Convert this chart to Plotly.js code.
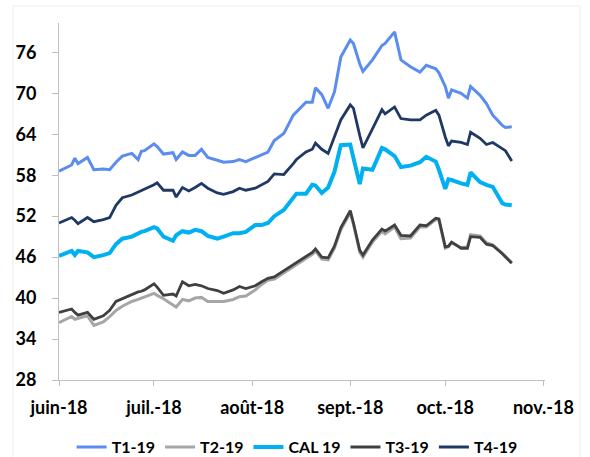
<!DOCTYPE html>
<html>
<head>
<meta charset="utf-8">
<script src="https://cdn.plot.ly/plotly-3.0.1.min.js"></script>
<style>
  html, body { margin: 0; padding: 0; background: #ffffff; }
  #chart { width: 590px; height: 457px; }
</style>
</head>
<body>
<div id="chart"></div>
<script>
const dates = [
  '2018-06-01','2018-06-05','2018-06-06','2018-06-07','2018-06-10','2018-06-12','2018-06-15','2018-06-17','2018-06-19','2018-06-21',
  '2018-06-24','2018-06-26','2018-06-27','2018-06-28','2018-07-01','2018-07-02','2018-07-04','2018-07-07','2018-07-08','2018-07-10',
  '2018-07-12','2018-07-14','2018-07-16','2018-07-18','2018-07-21','2018-07-23','2018-07-26','2018-07-28','2018-07-30','2018-08-02',
  '2018-08-04','2018-08-06','2018-08-08','2018-08-11','2018-08-14','2018-08-15','2018-08-18','2018-08-20','2018-08-21','2018-08-23',
  '2018-08-25','2018-08-27','2018-08-29','2018-09-01','2018-09-02','2018-09-04','2018-09-05',
  '2018-09-08','2018-09-11','2018-09-12','2018-09-15','2018-09-17','2018-09-20','2018-09-23','2018-09-25','2018-09-28','2018-09-29',
  '2018-10-01','2018-10-02','2018-10-03','2018-10-06','2018-10-08','2018-10-09','2018-10-12','2018-10-14','2018-10-16','2018-10-19','2018-10-20','2018-10-22'
];

const t1_19 = [58.6,59.5,60.5,59.7,60.6,58.8,58.9,58.8,59.9,60.8,
  61.2,60.3,61.5,61.6,62.6,62.2,61.1,61.3,60.3,61.4,
  60.9,60.9,61.8,60.6,60.2,59.9,60.0,60.3,60.0,60.6,
  61.0,61.4,63.1,64.1,66.8,67.3,68.7,68.7,70.8,69.8,
  67.8,70.2,75.3,77.8,77.3,74.3,73.2,
  74.9,77.0,77.3,79.0,74.9,73.9,73.1,74.1,73.6,73.0,
  71.0,69.3,70.5,70.0,69.3,71.0,69.7,68.5,66.8,65.3,65.0,65.1];

const t2_19 = [36.4,37.3,36.9,37.0,37.4,36.0,36.5,37.3,38.2,38.8,
  39.5,39.8,40.0,40.1,40.7,40.4,39.9,39.0,38.7,39.8,
  39.6,40.0,40.1,39.5,39.5,39.5,39.8,40.2,40.3,41.2,
  42.0,42.6,42.8,43.7,44.6,45.0,45.8,46.4,46.9,45.7,
  45.6,47.3,50.0,52.5,50.8,46.7,46.0,
  48.2,49.8,49.4,50.4,48.7,48.8,50.4,50.4,51.5,51.4,
  47.3,47.5,48.1,47.4,47.5,49.3,49.1,48.1,47.8,46.6,46.1,45.2];

const cal_19 = [46.2,46.9,46.3,46.9,46.7,46.0,46.3,46.6,47.9,48.7,
  49.0,49.5,49.7,49.8,50.4,50.2,49.0,48.4,49.2,49.8,
  49.6,50.0,49.8,49.1,48.7,49.0,49.5,49.5,49.7,50.7,
  50.7,51.0,52.0,52.9,54.8,55.3,55.3,56.6,56.5,55.4,
  56.2,58.5,62.4,62.5,60.5,56.7,59.0,
  58.8,62.0,61.8,60.8,59.2,59.4,59.9,60.7,60.0,58.8,
  56.0,57.4,57.3,56.8,56.6,58.4,57.0,56.6,56.3,53.9,53.7,53.6];

const t3_19 = [37.9,38.4,37.9,37.5,37.9,36.9,37.4,38.2,39.5,39.9,
  40.6,40.9,41.0,41.2,42.1,41.6,40.4,40.6,40.3,42.4,
  41.8,42.0,41.8,41.4,41.1,40.7,41.2,41.7,41.4,41.8,
  42.4,42.9,43.1,44.0,44.9,45.3,46.1,46.7,47.2,46.0,
  45.9,47.6,50.3,52.8,51.0,47.0,46.3,
  48.5,50.1,49.8,50.7,49.2,49.1,50.7,50.6,51.7,51.6,
  47.5,47.6,48.2,47.3,47.3,49.0,48.9,47.9,47.7,46.5,46.0,45.1];

const t4_19 = [51.0,51.8,51.4,50.9,51.8,51.2,51.5,51.8,53.6,54.7,
  55.1,55.5,55.8,55.9,56.6,56.9,55.8,55.8,54.8,56.2,
  55.7,56.2,56.8,56.1,55.4,55.2,55.6,56.1,55.8,56.1,
  56.6,57.1,58.2,58.1,59.7,60.3,61.4,61.8,62.7,61.8,
  61.2,63.6,66.1,68.3,67.8,63.8,62.0,
  64.8,67.6,67.0,68.0,66.3,66.1,66.1,66.8,67.5,66.8,
  63.6,62.3,63.0,62.8,62.5,64.3,63.4,62.5,62.8,61.8,61.6,60.1];

const seriesNames = ['T1-19','T2-19','CAL 19','T3-19','T4-19'];
const xTickVals = ['2018-06-01','2018-07-01','2018-08-01','2018-09-01','2018-10-01','2018-11-01'];
const xTickText = ['juin-18','juil.-18','août-18','sept.-18','oct.-18','nov.-18'];
const yTickVals = [28,34,40,46,52,58,64,70,76];

const seriesData = [t1_19, t2_19, cal_19, t3_19, t4_19];
const colors = ['#5B8DEF','#A6A6A6','#00B0F0','#404040','#1F3864'];
const widths = [3, 3, 4, 2.8, 2.8];

const traces = seriesData.map((vals, i) => ({
  type: 'scatter',
  mode: 'lines',
  name: seriesNames[i],
  x: dates,
  y: vals,
  line: { color: colors[i], width: widths[i] },
  hoverinfo: 'x+y+name'
}));

const fontFam = 'Lato, "Open Sans", sans-serif';

const layout = {
  width: 590,
  height: 457,
  margin: { l: 59, r: 45, t: 23, b: 77, autoexpand: false },
  paper_bgcolor: '#ffffff',
  plot_bgcolor: '#ffffff',
  showlegend: true,
  font: { family: fontFam, color: '#000000' },
  xaxis: {
    type: 'date',
    range: ['2018-06-01', '2018-11-01 12:00'],
    tickmode: 'array',
    tickvals: xTickVals,
    ticktext: xTickText,
    showgrid: false,
    zeroline: false,
    showline: true,
    linecolor: '#BFBFBF',
    linewidth: 1,
    ticks: 'outside',
    ticklen: 5,
    tickcolor: '#BFBFBF',
    ticklabelstandoff: 6,
    tickfont: { family: fontFam, size: 18, weight: 'bold', color: '#000000' },
    fixedrange: true
  },
  yaxis: {
    range: [28, 80.3],
    tickmode: 'array',
    tickvals: yTickVals,
    showgrid: false,
    zeroline: false,
    showline: true,
    linecolor: '#BFBFBF',
    linewidth: 1,
    ticks: 'outside',
    ticklen: 6,
    tickcolor: '#BFBFBF',
    ticklabelstandoff: 12,
    tickfont: { family: fontFam, size: 18, weight: 'bold', color: '#000000' },
    fixedrange: true
  },
  legend: {
    orientation: 'h',
    x: 0.49,
    xanchor: 'center',
    y: -0.188,
    yanchor: 'middle',
    font: { family: fontFam, size: 16, weight: 'bold', color: '#000000' },
    bgcolor: 'rgba(0,0,0,0)',
    itemwidth: 30,
    traceorder: 'normal'
  },
  shapes: [{
    type: 'rect',
    xref: 'paper', yref: 'paper',
    x0: -0.0947, x1: 1.072, y0: -0.3, y1: 1.0476,
    line: { color: '#EDEDED', width: 1 },
    fillcolor: 'rgba(0,0,0,0)',
    layer: 'below'
  }]
};

Plotly.newPlot('chart', traces, layout, { displayModeBar: false, staticPlot: true });
</script>
</body>
</html>
